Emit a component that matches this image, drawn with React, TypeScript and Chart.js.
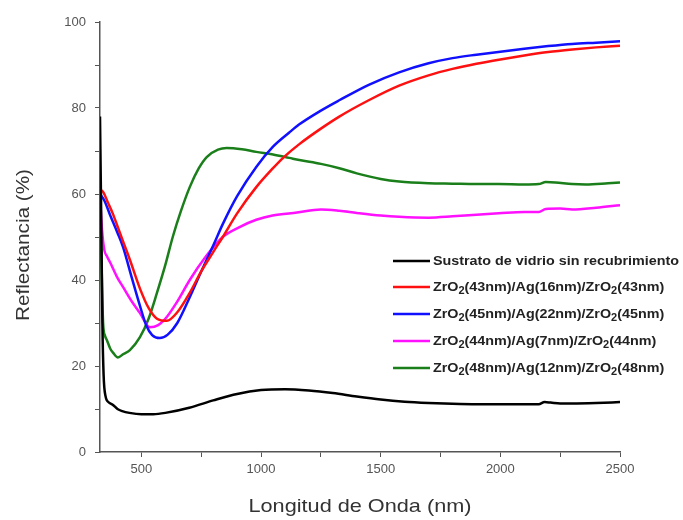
import React, { useEffect, useRef } from "react";
import { Chart, registerables } from "chart.js";
Chart.register(...registerables);

// Wavelength (nm) / reflectance (%)
const glassX = [327, 332, 337, 342, 350, 365, 380, 400, 420, 450, 500, 550, 600, 700, 800, 900, 1000, 1100, 1200, 1300, 1400, 1500, 1600, 1700, 1800, 1900, 2000, 2100, 2160, 2185, 2210, 2250, 2300, 2400, 2500];
const glassY = [78, 55, 30, 18, 13, 11.5, 11, 10, 9.5, 9.1, 8.8, 8.8, 9.1, 10.3, 12, 13.5, 14.4, 14.6, 14.3, 13.7, 12.9, 12.2, 11.7, 11.4, 11.2, 11.1, 11.1, 11.1, 11.1, 11.6, 11.5, 11.3, 11.3, 11.4, 11.6];

const ag16X = [327, 340, 360, 380, 400, 423, 450, 494, 530, 565, 606, 650, 702, 750, 800, 840, 900, 980, 1050, 1090, 1160, 1250, 1327, 1450, 1577, 1700, 1800, 1900, 2000, 2100, 2200, 2300, 2400, 2500];
const ag16Y = [61, 60.5, 58, 55.5, 52.5, 49, 45, 38, 33.5, 31, 30.5, 32.5, 37, 42, 46.5, 50, 55.5, 61.6, 66, 68.3, 71.6, 75.2, 78, 81.8, 85.2, 87.6, 89.1, 90.3, 91.3, 92.2, 93, 93.6, 94.1, 94.5];

const ag22X = [327, 345, 370, 400, 423, 460, 494, 520, 545, 577, 610, 650, 702, 750, 800, 840, 900, 980, 1050, 1118, 1160, 1250, 1327, 1450, 1577, 1700, 1800, 1900, 2000, 2100, 2200, 2300, 2400, 2500];
const ag22Y = [60, 58.5, 55, 51, 47.7, 40.5, 34, 29.5, 27.2, 26.5, 27.3, 30, 36, 42, 48, 53, 59.5, 66.3, 71, 74.3, 76.2, 79.4, 81.8, 85.4, 88.3, 90.4, 91.6, 92.4, 93.1, 93.8, 94.4, 94.9, 95.2, 95.5];

const ag7X = [327, 335, 345, 356, 370, 400, 423, 460, 494, 535, 570, 606, 650, 702, 770, 840, 910, 980, 1048, 1150, 1250, 1327, 1400, 1500, 1577, 1700, 1800, 1900, 1993, 2100, 2160, 2190, 2250, 2300, 2400, 2500];
const ag7Y = [60, 52, 47, 45.5, 44, 40.5, 38.4, 35, 32.3, 29, 29.5, 31.4, 35, 40, 45.5, 50, 52.3, 54, 55, 55.7, 56.4, 56.1, 55.6, 55, 54.7, 54.5, 54.8, 55.2, 55.5, 55.8, 55.8, 56.5, 56.6, 56.4, 56.8, 57.4];

const ag12X = [327, 333, 340, 348, 356, 370, 383, 402, 425, 452, 494, 530, 565, 600, 631, 665, 702, 740, 773, 820, 856, 920, 980, 1050, 1118, 1160, 1250, 1327, 1400, 1500, 1577, 1700, 1800, 1900, 1993, 2100, 2160, 2190, 2230, 2300, 2357, 2450, 2500];
const ag12Y = [60, 45, 30, 27, 26, 24, 23, 22, 22.8, 23.7, 26.7, 31, 37, 43.5, 50, 56, 61.6, 66, 68.6, 70.3, 70.7, 70.4, 69.8, 69.2, 68.4, 67.9, 67, 66, 64.8, 63.5, 62.9, 62.5, 62.4, 62.3, 62.3, 62.2, 62.3, 62.8, 62.7, 62.3, 62.2, 62.5, 62.7];

const seriesLabels = [
  "Sustrato de vidrio sin recubrimiento",
  "ZrO2(43nm)/Ag(16nm)/ZrO2(43nm)",
  "ZrO2(45nm)/Ag(22nm)/ZrO2(45nm)",
  "ZrO2(44nm)/Ag(7nm)/ZrO2(44nm)",
  "ZrO2(48nm)/Ag(12nm)/ZrO2(48nm)",
];
const seriesColors = ["#000000", "#ff1010", "#1010ff", "#ff10ff", "#1a7f1a"];
const xTicks = [500, 750, 1000, 1250, 1500, 1750, 2000, 2250, 2500];
const xTitle = "Longitud de Onda (nm)";
const yTitle = "Reflectancia (%)";

const FONT = "'Liberation Sans', Arial, sans-serif";

function legendWidth(ctx: CanvasRenderingContext2D, text: string) {
  const parts = text.split("ZrO2");
  let w = 0;
  parts.forEach((p, i) => {
    if (i > 0) {
      ctx.font = `bold 13px ${FONT}`;
      w += ctx.measureText("ZrO").width;
      ctx.font = `bold 10px ${FONT}`;
      w += ctx.measureText("2").width;
    }
    ctx.font = `bold 13px ${FONT}`;
    w += ctx.measureText(p).width;
  });
  return w;
}

function drawLegendText(ctx: CanvasRenderingContext2D, text: string, x: number, y: number) {
  const parts = text.split("ZrO2");
  let cx = x;
  parts.forEach((p, i) => {
    if (i > 0) {
      ctx.font = `bold 13px ${FONT}`;
      ctx.fillText("ZrO", cx, y);
      cx += ctx.measureText("ZrO").width;
      ctx.font = `bold 10px ${FONT}`;
      ctx.fillText("2", cx, y + 4);
      cx += ctx.measureText("2").width;
    }
    ctx.font = `bold 13px ${FONT}`;
    ctx.fillText(p, cx, y);
    cx += ctx.measureText(p).width;
  });
}

function stretchedText(ctx: CanvasRenderingContext2D, text: string, cx: number, cy: number, target: number, rot: number) {
  const w = ctx.measureText(text).width;
  const sx = target / w;
  ctx.save();
  ctx.translate(cx, cy);
  ctx.rotate(rot);
  ctx.scale(sx, 1);
  ctx.fillText(text, 0, 0);
  ctx.restore();
}

const decorPlugin = {
  id: "decor",
  afterDraw(chart: any) {
    const ctx = chart.ctx as CanvasRenderingContext2D;
    ctx.save();
    // axis titles
    ctx.fillStyle = "#333";
    ctx.font = `19px ${FONT}`;
    ctx.textAlign = "center";
    ctx.textBaseline = "middle";
    stretchedText(ctx, xTitle, 360, 507, 223, 0);
    stretchedText(ctx, yTitle, 24, 245, 152, -Math.PI / 2);
    // legend
    ctx.textAlign = "left";
    ctx.textBaseline = "middle";
    const x0 = 393;
    const rows = [261, 287, 314, 341, 368];
    const sx = 246 / legendWidth(ctx, seriesLabels[0]);
    seriesLabels.forEach((lab, i) => {
      const y = rows[i];
      ctx.strokeStyle = seriesColors[i];
      ctx.lineWidth = 2.5;
      ctx.beginPath();
      ctx.moveTo(x0, y);
      ctx.lineTo(x0 + 37, y);
      ctx.stroke();
      ctx.fillStyle = "#222";
      ctx.save();
      ctx.translate(x0 + 40, y);
      ctx.scale(sx, 1);
      drawLegendText(ctx, lab, 0, 0);
      ctx.restore();
    });
    ctx.restore();
  },
};

export default function App() {
  const ref = useRef<HTMLCanvasElement | null>(null);
  useEffect(() => {
    if (!ref.current) return;
    const mk = (xs: number[], ys: number[]) => xs.map((x, i) => ({ x, y: ys[i] }));
    const datasets = [
      { label: seriesLabels[0], data: mk(glassX, glassY), borderColor: seriesColors[0] },
      { label: seriesLabels[1], data: mk(ag16X, ag16Y), borderColor: seriesColors[1] },
      { label: seriesLabels[2], data: mk(ag22X, ag22Y), borderColor: seriesColors[2] },
      { label: seriesLabels[3], data: mk(ag7X, ag7Y), borderColor: seriesColors[3] },
      { label: seriesLabels[4], data: mk(ag12X, ag12Y), borderColor: seriesColors[4] },
    ].map((d) => ({
      ...d,
      borderWidth: 2.5,
      pointRadius: 0,
      fill: false,
      cubicInterpolationMode: "monotone" as const,
    }));
    const chart = new Chart(ref.current, {
      type: "line",
      data: { datasets },
      options: {
        animation: false,
        responsive: false,
        layout: { padding: { left: 0, right: 63, top: 22, bottom: 0 } },
        plugins: { legend: { display: false }, tooltip: { enabled: false } },
        scales: {
          x: {
            type: "linear",
            min: 327,
            max: 2500,
            afterBuildTicks: (s: any) => {
              s.ticks = xTicks.map((v) => ({ value: v }));
            },
            afterFit: (s: any) => {
              s.height = 68;
            },
            ticks: {
              autoSkip: false,
              maxRotation: 0,
              padding: 5,
              color: "#555",
              font: { family: FONT, size: 13 },
              callback: (v: any) => (Number(v) % 500 === 0 ? String(v) : ""),
            },
            grid: { drawOnChartArea: false, drawTicks: true, tickLength: 5, color: "#555" },
            border: { color: "#555", width: 1.5 },
          },
          y: {
            min: 0,
            max: 100,
            afterFit: (s: any) => {
              s.width = 100;
            },
            ticks: {
              stepSize: 10,
              padding: 9,
              color: "#555",
              font: { family: FONT, size: 13 },
              callback: (v: any) => (Number(v) % 20 === 0 ? String(v) : ""),
            },
            grid: { drawOnChartArea: false, drawTicks: true, tickLength: 5, color: "#555" },
            border: { color: "#555", width: 1.5 },
          },
        },
      },
      plugins: [decorPlugin],
    } as any);
    return () => chart.destroy();
  }, []);
  return (
    <div style={{ position: "absolute", left: 0, top: 0, width: 683, height: 520, background: "#fff" }}>
      <canvas ref={ref} width={683} height={520} style={{ display: "block" }} />
    </div>
  );
}
